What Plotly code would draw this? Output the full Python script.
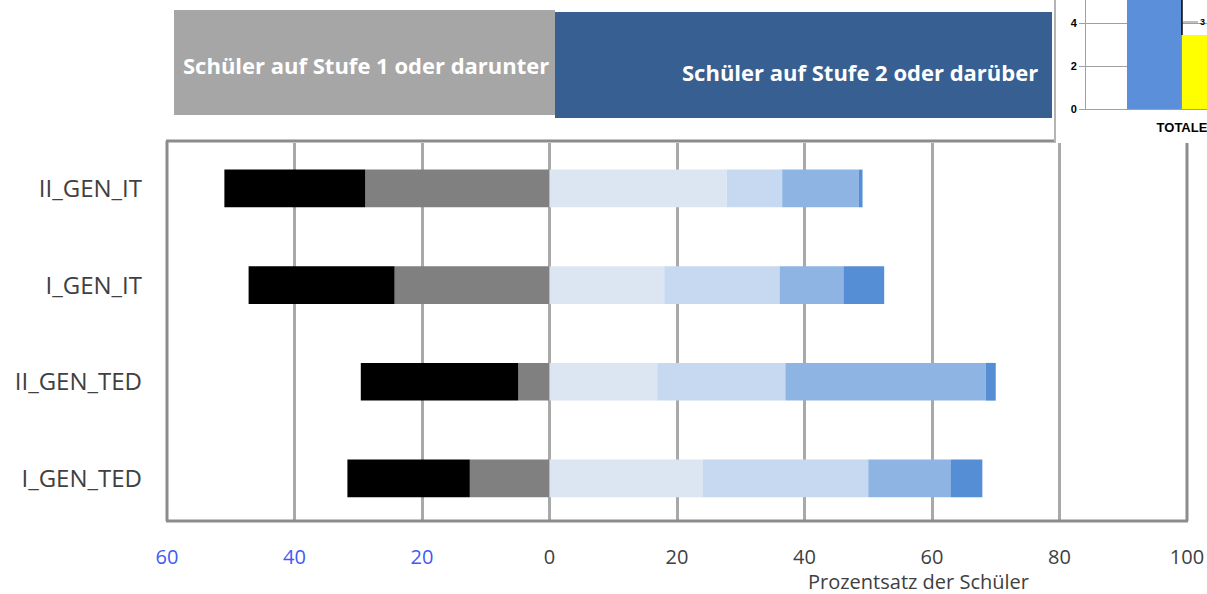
import plotly.graph_objects as go

# ---------------- data ----------------
categories = ["II_GEN_IT", "I_GEN_IT", "II_GEN_TED", "I_GEN_TED"]
# percentages below level 2 (plotted to the left of 0)
level1 = [28.9, 24.3, 4.9, 12.5]          # Stufe 1 (grey)
below1 = [22.1, 22.9, 24.7, 19.2]         # unter Stufe 1 (black)
# percentages at level 2 or above (plotted to the right of 0)
level2 = [27.8, 18.0, 16.9, 24.0]
level3 = [8.7, 18.1, 20.1, 26.0]
level4 = [12.0, 10.0, 31.4, 12.9]
level5 = [0.6, 6.4, 1.6, 5.0]

tick_vals = [-60, -40, -20, 0, 20, 40, 60, 80, 100]
tick_text = ["60", "40", "20", "0", "20", "40", "60", "80", "100"]

inset_category = ["TOTALE"]
inset_blue = [6.0]
inset_yellow = [3.44]

# ---------------- helpers ----------------
W, H = 1207, 594
def xp(px):
    return px / W
def yp(py):
    return 1 - py / H

FONT = "Open Sans"
neg_col = "#3f5bf5"
pos_col = "#404040"

fig = go.Figure()

ypos = list(range(len(categories)))
bar_w = 0.39

def add_bar(vals, color, sign=1):
    fig.add_trace(go.Bar(
        y=ypos, x=[sign * v for v in vals], orientation="h",
        marker=dict(color=color, line=dict(width=0)),
        width=bar_w, showlegend=False, xaxis="x", yaxis="y",
    ))

add_bar(level1, "#808080", -1)
add_bar(below1, "#000000", -1)
add_bar(level2, "#dce6f2")
add_bar(level3, "#c6d9f0")
add_bar(level4, "#8eb4e3")
add_bar(level5, "#558ed5")

# inset (partial chart, top right)
fig.add_trace(go.Bar(x=inset_category, y=inset_blue, marker=dict(color="#5b8fd9", line=dict(width=0)),
                     xaxis="x2", yaxis="y2", showlegend=False, offsetgroup="a", width=0.4))
fig.add_trace(go.Bar(x=inset_category, y=inset_yellow, marker=dict(color="#ffff00", line=dict(width=0)),
                     xaxis="x2", yaxis="y2", showlegend=False, offsetgroup="b", width=0.4))

tt = [f"<span style='color:{neg_col if v < 0 else pos_col}'>{t}</span>" for v, t in zip(tick_vals, tick_text)]

fig.update_layout(
    width=W, height=H,
    margin=dict(l=0, r=0, t=0, b=0, autoexpand=False),
    paper_bgcolor="white", plot_bgcolor="rgba(0,0,0,0)",
    barmode="relative", bargap=0.2,
    font=dict(family=FONT, color=pos_col),
    xaxis=dict(
        domain=[xp(167), xp(1187)], range=[-60, 100],
        tickvals=tick_vals, ticktext=tt,
        showgrid=True, gridcolor="#a9a9a9", gridwidth=3,
        zeroline=False, showline=False,
        tickfont=dict(size=20, family=FONT),
        ticklabelstandoff=23, anchor="y", automargin=False,
    ),
    yaxis=dict(
        domain=[yp(520), yp(143)], range=[3.43, -0.47],
        tickvals=ypos, ticktext=categories,
        showgrid=False, zeroline=False, showline=False,
        tickfont=dict(size=24, family=FONT, color="#404040"),
        ticklabelstandoff=24, anchor="x", automargin=False,
    ),
    xaxis2=dict(
        domain=[xp(1086), 1.0], range=[-0.698, 0.182],
        anchor="y2", showgrid=False, zeroline=False,
        showline=True, linecolor="#a0a0a0", linewidth=1,
        tickfont=dict(size=13, family="Liberation Sans", color="#000000", weight="bold"),
        ticklabelstandoff=6, automargin=False,
    ),
    yaxis2=dict(
        domain=[yp(109), 1.0], range=[0, 5.07],
        anchor="x2", dtick=2, showgrid=True, gridcolor="#a0a0a0", gridwidth=1,
        zeroline=False, showline=True, linecolor="#a0a0a0", linewidth=1,
        ticks="outside", ticklen=6, tickcolor="#a0a0a0",
        tickfont=dict(size=11, family="Liberation Sans", color="#000000", weight="bold"),
        automargin=False,
    ),
)

shapes = []
frame = dict(type="line", xref="paper", yref="paper", line=dict(color="#8c8c8c", width=3), layer="above")
shapes.append({**frame, "x0": xp(167), "x1": xp(167), "y0": yp(141), "y1": yp(521)})
shapes.append({**frame, "x0": xp(166), "x1": xp(1188), "y0": yp(521), "y1": yp(521)})
shapes.append({**frame, "x0": xp(1187), "x1": xp(1187), "y0": yp(143), "y1": yp(521)})
shapes.append({**frame, "x0": xp(166), "x1": xp(1054), "y0": yp(141), "y1": yp(141)})
# header boxes
shapes.append(dict(type="rect", xref="paper", yref="paper", x0=xp(174), x1=xp(555), y0=yp(115), y1=yp(10),
                   fillcolor="#a6a6a6", line=dict(width=0), layer="below"))
shapes.append(dict(type="rect", xref="paper", yref="paper", x0=xp(555), x1=xp(1052), y0=yp(118), y1=yp(12),
                   fillcolor="#375f91", line=dict(width=0), layer="below"))
# inset border
shapes.append(dict(type="line", xref="paper", yref="paper", x0=xp(1055), x1=xp(1055), y0=yp(0), y1=yp(143),
                   line=dict(color="#b4b4b4", width=2)))
# inset black line & leader line
shapes.append(dict(type="line", xref="x2", yref="y2", x0=0, x1=0, y0=inset_yellow[0], y1=5.07,
                   line=dict(color="#000000", width=1.5), layer="above"))
shapes.append(dict(type="line", xref="paper", yref="paper", x0=xp(1183), x1=xp(1198), y0=yp(22), y1=yp(22),
                   line=dict(color="#808080", width=1), layer="above"))
fig.update_layout(shapes=shapes)

def ann(text, x, y, size, color, family=FONT, weight="normal"):
    return dict(text=text, x=xp(x), y=yp(y), xref="paper", yref="paper",
                xanchor="center", yanchor="middle", showarrow=False,
                font=dict(size=size, color=color, family=family, weight=weight))

annotations = [
    ann("Schüler auf Stufe 1 oder darunter", 366, 65, 22, "white", weight="bold"),
    ann("Schüler auf Stufe 2 oder darüber", 860, 72, 22, "white", weight="bold"),
    ann("Prozentsatz der Schüler", 918, 581, 20, pos_col),
    ann("3", 1202, 22, 9, "#000000", family="Liberation Sans", weight="bold"),
]
fig.update_layout(annotations=annotations)

fig.write_html("out.html", config={"displayModeBar": False},
               post_script="document.body.style.margin='0';document.body.style.overflow='hidden';")
